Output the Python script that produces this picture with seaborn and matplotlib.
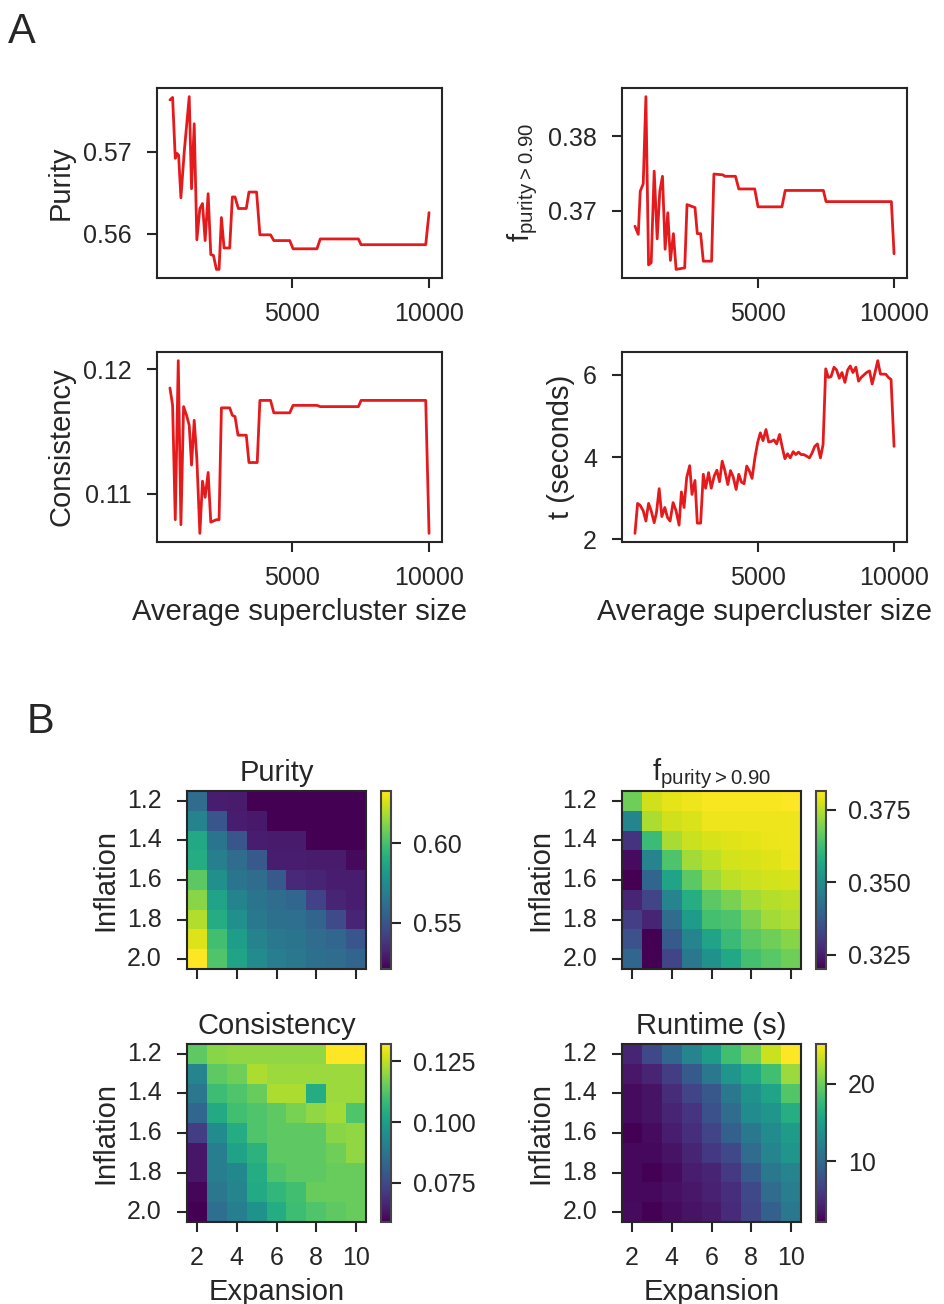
import numpy as np
import pandas as pd
import seaborn as sns
import matplotlib
matplotlib.use('Agg')
import matplotlib.pyplot as plt

# ---- panel A: metrics vs. average supercluster size ----
pur_x = [510, 607, 705, 766, 827, 912, 1034, 1217, 1302, 1400, 1497, 1607, 1704, 1801, 1911,
         2008, 2106, 2215, 2312, 2398, 2495, 2702, 2799, 2897, 3019, 3311, 3408, 3688, 3810,
         4200, 4321, 4905, 5027, 5903, 6025, 7424, 7522, 9894, 10016]
pur_y = [0.5763, 0.5766, 0.5692, 0.5698, 0.5696, 0.5644, 0.5700, 0.5767, 0.5655, 0.5734,
         0.5593, 0.5631, 0.5637, 0.5592, 0.5649, 0.5575, 0.5574, 0.5557, 0.5557, 0.5620,
         0.5583, 0.5583, 0.5645, 0.5645, 0.5631, 0.5631, 0.5651, 0.5651, 0.5599, 0.5599,
         0.5592, 0.5592, 0.5582, 0.5582, 0.5594, 0.5594, 0.5587, 0.5587, 0.5626]

fp_x = [476, 598, 671, 780, 878, 976, 1073, 1183, 1293, 1390, 1488, 1585, 1683, 1780, 1890,
        1988, 2305, 2390, 2683, 2768, 2890, 2988, 3293, 3378, 3707, 3780, 4171, 4293, 4878,
        5000, 5878, 6000, 7402, 7500, 9902, 10000]
fp_y = [0.3679, 0.3668, 0.3726, 0.3736, 0.3853, 0.3627, 0.3630, 0.3753, 0.3662, 0.3726,
        0.3746, 0.3648, 0.3697, 0.3633, 0.3669, 0.3621, 0.3623, 0.3708, 0.3704, 0.3669,
        0.3669, 0.3632, 0.3632, 0.3749, 0.3748, 0.3746, 0.3746, 0.3729, 0.3729, 0.3705,
        0.3705, 0.3727, 0.3727, 0.3712, 0.3712, 0.3642]

con_x = [510, 607, 705, 815, 912, 1010, 1119, 1217, 1302, 1400, 1497, 1607, 1704, 1801, 1911,
         2008, 2215, 2312, 2398, 2702, 2799, 2897, 3007, 3311, 3408, 3712, 3810, 4200, 4321,
         4905, 5027, 5903, 6025, 7424, 7522, 9894, 10016]
con_y = [0.1185, 0.1171, 0.1079, 0.1207, 0.1075, 0.1170, 0.1163, 0.1155, 0.1123, 0.1159,
         0.1128, 0.1068, 0.1110, 0.1097, 0.1117, 0.1077, 0.1079, 0.1079, 0.1169, 0.1169,
         0.1163, 0.1162, 0.1147, 0.1147, 0.1125, 0.1125, 0.1175, 0.1175, 0.1165, 0.1165,
         0.1171, 0.1171, 0.1170, 0.1170, 0.1175, 0.1175, 0.1068]

t_x = [476, 573, 671, 780, 878, 976, 1073, 1183, 1268, 1366,
       1463, 1573, 1671, 1768, 1878, 1988, 2098, 2183, 2280, 2378,
       2488, 2573, 2683, 2768, 2890, 2988, 3073, 3183, 3280, 3390,
       3488, 3585, 3683, 3780, 3890, 3988, 4085, 4195, 4293, 4390,
       4488, 4585, 4683, 4780, 4890, 4988, 5085, 5183, 5293, 5390,
       5488, 5585, 5683, 5793, 5890, 5988, 6085, 6183, 6293, 6390,
       6488, 6585, 6683, 6793, 6890, 6988, 7085, 7183, 7293, 7390,
       7488, 7585, 7683, 7793, 7890, 7988, 8085, 8195, 8293, 8390,
       8488, 8598, 8695, 8793, 8890, 8988, 9098, 9195, 9293, 9402,
       9500, 9598, 9695, 9793, 9890, 10000]
t_y = [2.14, 2.87, 2.82, 2.69, 2.44, 2.87, 2.69, 2.40, 2.65, 3.23,
       2.55, 2.77, 2.53, 2.44, 2.89, 2.69, 2.34, 3.15, 2.77, 3.50,
       3.79, 3.09, 3.43, 2.39, 2.39, 3.58, 3.24, 3.62, 3.24, 3.54,
       3.68, 3.40, 3.90, 3.67, 3.33, 3.67, 3.52, 3.21, 3.58, 3.39,
       3.35, 3.78, 3.66, 3.48, 4.00, 4.36, 4.59, 4.40, 4.67, 4.37,
       4.38, 4.42, 4.32, 4.55, 4.24, 3.96, 4.08, 3.98, 4.13, 4.06,
       4.12, 4.06, 4.06, 4.02, 3.98, 4.10, 4.26, 4.32, 3.98, 4.30,
       6.15, 5.94, 5.96, 6.19, 6.12, 5.92, 6.06, 5.82, 6.12, 6.22,
       6.06, 6.19, 5.85, 5.94, 6.00, 6.06, 6.10, 5.78, 6.04, 6.35,
       6.02, 6.02, 6.02, 5.94, 5.89, 4.26]

# ---- panel B: parameter sweep (rows = inflation, cols = expansion) ----
inflation = [1.2, 1.3, 1.4, 1.5, 1.6, 1.7, 1.8, 1.9, 2.0]
expansion = [2, 3, 4, 5, 6, 7, 8, 9, 10]

purity_grid = [
    [0.560, 0.530, 0.529, 0.521, 0.521, 0.521, 0.521, 0.521, 0.521],
    [0.571, 0.551, 0.530, 0.528, 0.521, 0.521, 0.521, 0.521, 0.521],
    [0.588, 0.564, 0.551, 0.530, 0.529, 0.529, 0.521, 0.521, 0.521],
    [0.590, 0.569, 0.560, 0.552, 0.530, 0.530, 0.529, 0.529, 0.524],
    [0.605, 0.577, 0.564, 0.560, 0.552, 0.534, 0.532, 0.530, 0.530],
    [0.613, 0.586, 0.571, 0.564, 0.560, 0.558, 0.543, 0.532, 0.530],
    [0.620, 0.590, 0.577, 0.566, 0.562, 0.561, 0.557, 0.546, 0.532],
    [0.627, 0.599, 0.583, 0.571, 0.566, 0.564, 0.560, 0.558, 0.551],
    [0.633, 0.602, 0.586, 0.574, 0.568, 0.566, 0.562, 0.560, 0.557],
]
fpur_grid = [
    [0.3680, 0.3770, 0.3790, 0.3800, 0.3810, 0.3810, 0.3810, 0.3810, 0.3815],
    [0.3480, 0.3740, 0.3770, 0.3780, 0.3800, 0.3800, 0.3800, 0.3800, 0.3800],
    [0.3290, 0.3620, 0.3735, 0.3766, 0.3778, 0.3784, 0.3790, 0.3797, 0.3800],
    [0.3218, 0.3477, 0.3643, 0.3729, 0.3754, 0.3772, 0.3778, 0.3784, 0.3797],
    [0.3200, 0.3397, 0.3557, 0.3661, 0.3723, 0.3754, 0.3766, 0.3772, 0.3778],
    [0.3262, 0.3323, 0.3477, 0.3581, 0.3661, 0.3692, 0.3729, 0.3747, 0.3754],
    [0.3311, 0.3262, 0.3415, 0.3538, 0.3631, 0.3643, 0.3692, 0.3729, 0.3741],
    [0.3354, 0.3200, 0.3372, 0.3477, 0.3557, 0.3618, 0.3661, 0.3680, 0.3704],
    [0.3403, 0.3200, 0.3323, 0.3446, 0.3508, 0.3569, 0.3631, 0.3655, 0.3680],
]
cons_grid = [
    [0.114, 0.119, 0.120, 0.120, 0.120, 0.120, 0.120, 0.132, 0.132],
    [0.092, 0.114, 0.116, 0.123, 0.121, 0.121, 0.121, 0.121, 0.121],
    [0.088, 0.109, 0.112, 0.115, 0.123, 0.123, 0.104, 0.121, 0.121],
    [0.083, 0.103, 0.110, 0.112, 0.114, 0.117, 0.120, 0.122, 0.112],
    [0.072, 0.094, 0.104, 0.112, 0.114, 0.114, 0.114, 0.119, 0.120],
    [0.063, 0.090, 0.101, 0.106, 0.114, 0.114, 0.114, 0.116, 0.120],
    [0.063, 0.090, 0.093, 0.104, 0.112, 0.114, 0.114, 0.115, 0.115],
    [0.060, 0.088, 0.092, 0.103, 0.107, 0.110, 0.115, 0.115, 0.115],
    [0.059, 0.085, 0.090, 0.096, 0.104, 0.109, 0.112, 0.114, 0.115],
]
runtime_grid = [
    [4.5, 7.2, 9.8, 12.5, 14.8, 18.2, 20.1, 23.3, 25.1],
    [3.6, 4.5, 6.3, 8.6, 11.4, 14.1, 15.9, 18.2, 21.7],
    [2.9, 3.3, 5.0, 6.8, 8.4, 11.4, 13.7, 15.5, 18.9],
    [2.9, 3.3, 4.5, 5.6, 7.9, 10.2, 13.2, 14.1, 16.4],
    [2.2, 2.9, 4.0, 5.2, 6.8, 9.1, 11.4, 13.2, 14.8],
    [2.7, 2.7, 3.3, 4.5, 5.9, 7.2, 10.2, 12.5, 14.1],
    [2.7, 2.2, 2.9, 4.0, 4.5, 6.1, 8.6, 11.4, 12.5],
    [2.7, 2.7, 3.1, 3.6, 4.3, 5.2, 7.2, 10.2, 11.8],
    [2.9, 2.2, 2.9, 3.3, 3.8, 4.9, 6.8, 9.1, 11.4],
]

sns.set_style('ticks')
plt.rcParams['font.family'] = ['Liberation Sans', 'DejaVu Sans']
plt.rcParams['font.size'] = 18
plt.rcParams['axes.edgecolor'] = '#262626'
plt.rcParams['axes.linewidth'] = 1.5
plt.rcParams['xtick.major.width'] = 1.5
plt.rcParams['ytick.major.width'] = 1.5
plt.rcParams['xtick.major.size'] = 7
plt.rcParams['ytick.major.size'] = 7
plt.rcParams['xtick.major.pad'] = 10
plt.rcParams['ytick.major.pad'] = 11
plt.rcParams['xtick.labelsize'] = 18
plt.rcParams['ytick.labelsize'] = 18
plt.rcParams['axes.labelsize'] = 21
plt.rcParams['axes.labelpad'] = 6

W, H = 944, 1304
fig = plt.figure(figsize=(W / 100, H / 100), dpi=100)


def box(l, t, r, b):
    return [l / W, 1 - b / H, (r - l) / W, (b - t) / H]


red = '#e41a1c'
fsub = r'f$_{\mathregular{purity > 0.90}}$'

line_panels = [
    (box(157, 88, 442, 278), pur_x, pur_y, 'Purity', [0.56, 0.57], False),
    (box(622, 88, 907, 278), fp_x, fp_y, fsub, [0.37, 0.38], False),
    (box(157, 352, 442, 542), con_x, con_y, 'Consistency', [0.11, 0.12], True),
    (box(622, 352, 907, 542), t_x, t_y, 't (seconds)', [2, 4, 6], True),
]
for rect, xs, ys, ylab, yt, bottom in line_panels:
    ax = fig.add_axes(rect)
    sns.lineplot(x=xs, y=ys, ax=ax, color=red, lw=2.0)
    ax.set_xticks([5000, 10000])
    ax.set_yticks(yt)
    ax.set_ylabel(ylab)
    if bottom:
        ax.set_xlabel('Average supercluster size')

heat_panels = [
    (box(187, 791, 366, 969), box(381, 791, 391, 969), purity_grid, 'Purity', [0.55, 0.60], False),
    (box(622, 791, 801, 969), box(816, 791, 826, 969), fpur_grid, fsub, [0.325, 0.350, 0.375], False),
    (box(187, 1044, 366, 1222), box(381, 1044, 391, 1222), cons_grid, 'Consistency',
     [0.075, 0.100, 0.125], True),
    (box(622, 1044, 801, 1222), box(816, 1044, 826, 1222), runtime_grid, 'Runtime (s)', [10, 20], True),
]
for rect, crect, grid, title, cticks, bottom in heat_panels:
    ax = fig.add_axes(rect)
    cax = fig.add_axes(crect)
    df = pd.DataFrame(grid, index=inflation, columns=expansion)
    sns.heatmap(df, ax=ax, cbar_ax=cax, cmap='viridis')
    for sp in ax.spines.values():
        sp.set_visible(True)
        sp.set_linewidth(1.5)
        sp.set_color('#262626')
    ax.set_yticks(np.arange(0, 9, 2) + 0.5)
    ax.set_yticklabels(['1.2', '1.4', '1.6', '1.8', '2.0'], rotation=0)
    ax.set_xticks(np.arange(0, 9, 2) + 0.5)
    if bottom:
        ax.set_xticklabels(['2', '4', '6', '8', '10'], rotation=0)
        ax.set_xlabel('Expansion')
    else:
        ax.set_xticklabels([])
        ax.set_xlabel('')
    ax.tick_params(length=7, width=1.5)
    ax.set_ylabel('Inflation')
    ax.set_title(title, fontsize=21, pad=7)
    cbar = ax.collections[0].colorbar
    cbar.set_ticks(cticks)
    cbar.ax.tick_params(length=7, width=1.5, pad=9)
    cbar.outline.set_edgecolor('#444444')
    cbar.outline.set_linewidth(1.5)

fig.text(8 / W, 1 - 12 / H, 'A', fontsize=30, va='top', ha='left')
fig.text(27 / W, 1 - 702 / H, 'B', fontsize=30, va='top', ha='left')

fig.savefig('out.png', dpi=100)
